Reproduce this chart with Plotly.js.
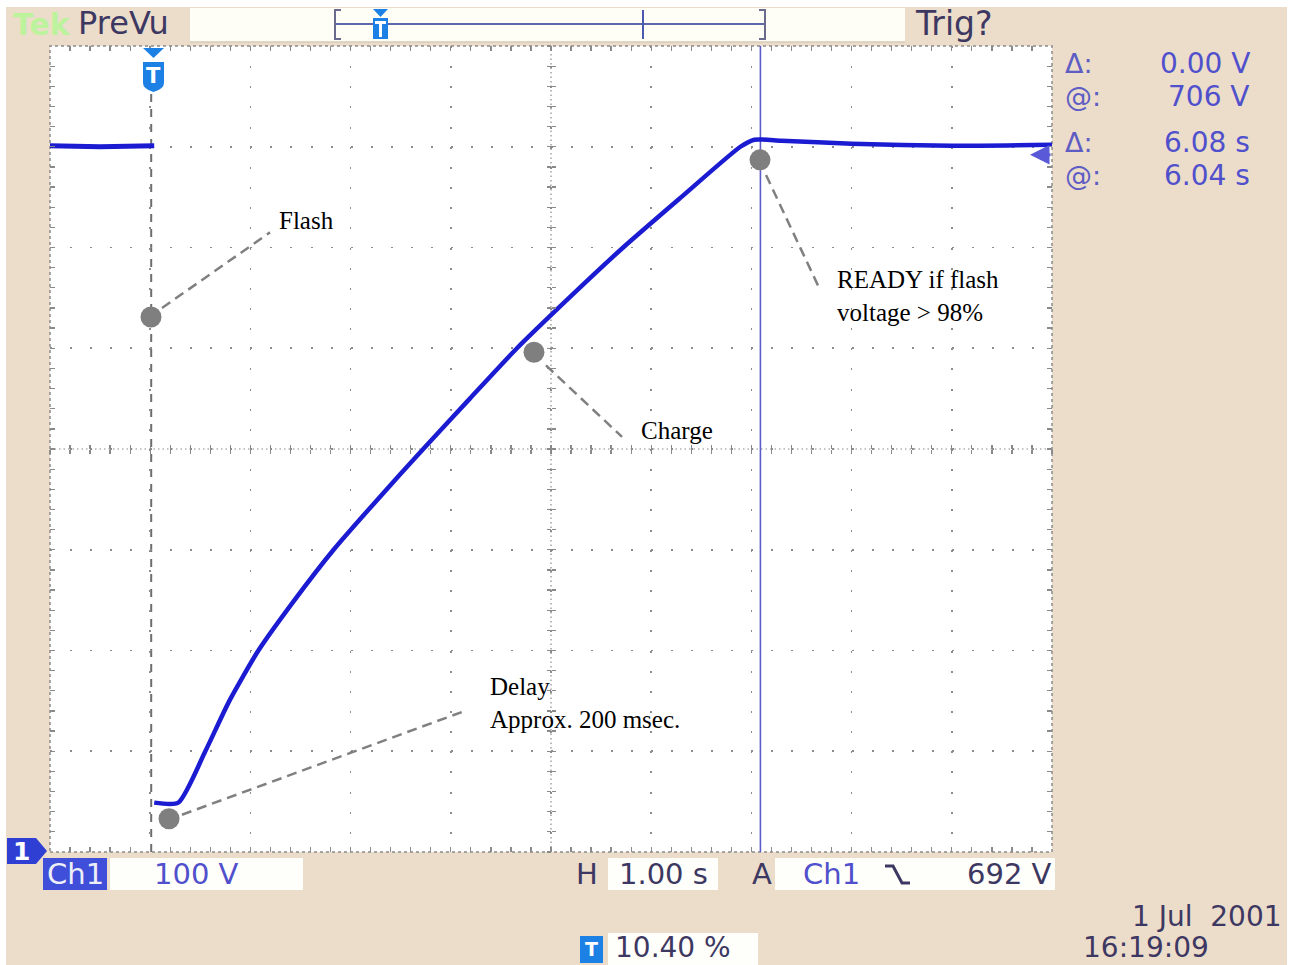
<!DOCTYPE html>
<html><head><meta charset="utf-8">
<script src="https://cdn.plot.ly/plotly-3.0.1.min.js"></script>
<style>html,body{margin:0;padding:0;background:#fff;} #chart{width:1291px;height:965px;}</style>
</head><body><div id="chart"></div>
<script>
// ---- data (seconds, volts) read from the screen; no trace is drawn during the flash drop ----
const preTime = [0, 0.5, 1.04];
const preVolt = [701, 700, 701];
const chargeTime = [1.04, 1.28, 1.55, 1.79, 2.08, 2.44, 2.83, 3.27, 3.725, 4.19, 4.66, 5.18, 5.72, 6.30, 6.89, 7.03, 7.3, 8.0, 9.0, 10.0];
const chargeVolt = [49, 49, 100, 150, 200, 250, 300, 350, 400, 450, 500, 550, 600, 650, 700, 707, 706, 703, 701, 702];

const xRange = [0, 10];      // 1.00 s/div, 10 div
const yRange = [0, 800];     // 100 V/div, 8 div
const TRIGGER_T = 1.01;
const CURSOR_T = 7.09;
const TRIG_LEVEL = 692;

const calloutLabels = ['Flash', 'Charge', 'READY if flash<br>voltage > 98%', 'Delay<br>Approx. 200 msec.'];
const calloutDotT = [1.008, 4.83, 7.086, 1.188];
const calloutDotV = [531, 496, 687, 33];
const calloutLineT0 = [1.118, 4.95, 7.146, 1.317];
const calloutLineV0 = [540, 483, 672, 37];
const calloutLineT1 = [2.196, 5.709, 7.685, 4.112];
const calloutLineV1 = [615, 412, 558, 139];
const calloutTextT = [2.265, 5.878, 7.834, 4.371];
const calloutTextV = [627, 418, 552, 148];

const readoutLabels = ['Δ:', '@:', 'Δ:', '@:'];
const readoutValues = ['0.00 V', '706 V', '6.08 s', '6.04 s'];

// ---- layout helpers (pixel -> paper) ----
const L = 50, R = 1052, TOP = 46, BOT = 852;
const PX = p => (p - L) / (R - L);
const PY = p => (BOT - p) / (BOT - TOP);
const SCOPE = '"DejaVu Sans", Verdana, sans-serif';
const DARK = '#3d3862';
const BLUE = '#5050cc';
const ICON = '#1d80e4';
const BEIGE = '#ecdcca';

function rectPx(x0, y0, x1, y1, fill) {
  return {type: 'rect', xref: 'paper', yref: 'paper', x0: PX(x0), x1: PX(x1), y0: PY(y1), y1: PY(y0),
    fillcolor: fill, line: {width: 0}, layer: 'above'};
}
function pathPx(pts, close, fill, line) {
  let d = pts.map((p, i) => (i ? 'L' : 'M') + PX(p[0]).toFixed(5) + ',' + PY(p[1]).toFixed(5)).join(' ');
  if (close) d += ' Z';
  return {type: 'path', xref: 'paper', yref: 'paper', path: d, fillcolor: fill || 'rgba(0,0,0,0)', line: line || {width: 0}, layer: 'above'};
}
function linePx(x0, y0, x1, y1, color, width, dash) {
  return {type: 'line', xref: 'paper', yref: 'paper', x0: PX(x0), y0: PY(y0), x1: PX(x1), y1: PY(y1),
    line: {color: color, width: width, dash: dash || 'solid'}, layer: 'above'};
}
function txt(px, py, text, o) {
  o = o || {};
  return {xref: 'paper', yref: 'paper', x: PX(px), y: PY(py), text: text, showarrow: false,
    xanchor: o.xa || 'left', yanchor: 'middle', borderpad: 0,
    font: {family: SCOPE, size: o.size || 29, color: o.color || DARK, weight: o.weight || 'normal'}};
}

const shapes = [];
// white outer edges of the screenshot
shapes.push(rectPx(0, 0, 1291, 7, '#ffffff'));
shapes.push(rectPx(0, 0, 6, 965, '#ffffff'));
shapes.push(rectPx(1287, 0, 1291, 965, '#ffffff'));
// top bar
shapes.push(rectPx(190, 8, 905, 42, '#fffef6'));
shapes.push(linePx(190, 42, 905, 42, '#d8cbb8', 1.5));
shapes.push(linePx(335, 24, 765, 24, '#5c68aa', 2));
shapes.push(pathPx([[341, 10], [335, 10], [335, 39], [341, 39]], false, null, {color: '#6b6b8e', width: 2}));
shapes.push(pathPx([[759, 10], [765, 10], [765, 39], [759, 39]], false, null, {color: '#6b6b8e', width: 2}));
shapes.push(linePx(643, 10, 643, 39, '#4a58b0', 2));
shapes.push(pathPx([[373, 9], [388, 9], [380.5, 17]], true, ICON));
shapes.push(rectPx(373, 18, 388, 39, ICON));
shapes.push(rectPx(379, 21, 382, 37, '#ffffff'));
shapes.push(rectPx(375, 21, 386, 24, '#ffffff'));
// plot frame & centre lines (dotted)
shapes.push({type: 'rect', xref: 'paper', yref: 'paper', x0: 0, x1: 1, y0: 0, y1: 1,
  line: {color: '#8a8a8a', width: 1.5, dash: 'dot'}, layer: 'below'});
shapes.push({type: 'line', xref: 'paper', yref: 'paper', x0: 0, x1: 1, y0: 0.5, y1: 0.5,
  line: {color: '#8a8a8a', width: 1.2, dash: '1.5px,3px'}, layer: 'below'});
shapes.push({type: 'line', xref: 'paper', yref: 'paper', x0: 0.5, x1: 0.5, y0: 0, y1: 1,
  line: {color: '#8a8a8a', width: 1.2, dash: '1.5px,3px'}, layer: 'below'});
// trigger position dashed line
shapes.push({type: 'line', xref: 'x', yref: 'paper', x0: TRIGGER_T, x1: TRIGGER_T, y0: 0, y1: PY(92),
  line: {color: '#6e6e6e', width: 2, dash: '8px,7px'}, layer: 'below'});
// cursor line
shapes.push({type: 'line', xref: 'x', yref: 'paper', x0: CURSOR_T, x1: CURSOR_T, y0: 0, y1: 1,
  line: {color: '#5a5ac8', width: 1.6}, layer: 'below'});
// callout leaders
for (let i = 0; i < calloutLabels.length; i++) {
  shapes.push({type: 'line', xref: 'x', yref: 'y', x0: calloutLineT0[i], y0: calloutLineV0[i], x1: calloutLineT1[i], y1: calloutLineV1[i],
    line: {color: '#808080', width: 2.5, dash: '10px,6px'}, layer: 'above'});
}
// T marker on top of the graticule
shapes.push(pathPx([[143, 48], [164, 48], [153.5, 58]], true, ICON));
shapes.push({type: 'path', xref: 'paper', yref: 'paper', layer: 'above', fillcolor: ICON, line: {width: 0},
  path: 'M' + PX(143) + ',' + PY(62) + ' L' + PX(164) + ',' + PY(62) + ' L' + PX(164) + ',' + PY(83) +
    ' Q' + PX(164) + ',' + PY(89) + ' ' + PX(153.5) + ',' + PY(92) + ' Q' + PX(143) + ',' + PY(89) + ' ' + PX(143) + ',' + PY(83) + ' Z'});
// bottom status line
shapes.push(pathPx([[7, 838], [36, 838], [47, 851], [36, 864], [7, 864]], true, '#2f3fd4'));
shapes.push(rectPx(43, 858, 107, 890, '#3f4fda'));
shapes.push(rectPx(110, 858, 303, 890, '#fefefa'));
shapes.push(rectPx(608, 858, 718, 890, '#fefefa'));
shapes.push(rectPx(775, 858, 1055, 890, '#fefefa'));
shapes.push(pathPx([[885, 866], [893, 866], [902, 883], [910, 883]], false, null, {color: DARK, width: 3}));
shapes.push(rectPx(608, 933, 758, 965, '#fefefa'));
shapes.push(rectPx(580, 936, 603, 963, ICON));

const annotations = [];
annotations.push(txt(12, 24, 'Tek', {color: '#bdf39c', size: 30, weight: 'bold'}));
annotations.push(txt(77, 23, 'PreVu', {size: 32}));
annotations.push(txt(914, 23, 'Trig?', {size: 33}));
annotations.push(txt(153.5, 76, 'T', {xa: 'center', color: '#ffffff', size: 21, weight: 'bold'}));
annotations.push(txt(591.5, 949, 'T', {xa: 'center', color: '#ffffff', size: 19, weight: 'bold'}));
// right-hand readouts
const readY = [63, 96, 143, 176];
for (let i = 0; i < readoutLabels.length; i++) {
  annotations.push(txt(1064, readY[i], readoutLabels[i], {color: '#5d5dc4', size: 27}));
  annotations.push(txt(1251, readY[i], readoutValues[i], {xa: 'right', color: BLUE, size: 28}));
}
// bottom readouts
annotations.push(txt(21, 851, '1', {xa: 'center', color: '#ffffff', size: 25, weight: 'bold'}));
annotations.push(txt(75, 874, 'Ch1', {xa: 'center', color: '#eeeef6', size: 29}));
annotations.push(txt(196, 874, '100 V', {xa: 'center', color: BLUE, size: 29}));
annotations.push(txt(587, 874, 'H', {xa: 'center', size: 29}));
annotations.push(txt(663, 874, '1.00 s', {xa: 'center', size: 29}));
annotations.push(txt(762, 874, 'A', {xa: 'center', size: 29}));
annotations.push(txt(831, 874, 'Ch1', {xa: 'center', color: BLUE, size: 29}));
annotations.push(txt(1053, 874, '692 V', {xa: 'right', size: 29}));
annotations.push(txt(1283, 917, '1 Jul  2001', {xa: 'right', size: 28}));
annotations.push(txt(1082, 947, '16:19:09', {size: 28}));
annotations.push(txt(614, 947, '10.40 %', {size: 28}));
// trigger level arrow
annotations.push({xref: 'x', yref: 'y', x: (1030 - L) / (R - L) * 10, y: TRIG_LEVEL, ax: 22, ay: 0, text: '',
  showarrow: true, arrowhead: 2, arrowsize: 1.3, arrowwidth: 3, arrowcolor: '#5a5ad8'});
// callout labels
for (let i = 0; i < calloutLabels.length; i++) {
  annotations.push({xref: 'x', yref: 'y', x: calloutTextT[i], y: calloutTextV[i], text: calloutLabels[i],
    showarrow: false, xanchor: 'left', yanchor: 'middle', align: 'left',
    font: {family: '"Liberation Serif", "Times New Roman", serif', size: 25, color: '#000000'}});
}

const tickCol = '#8a8a8a';
const baseAxis = {showticklabels: false, zeroline: false, showline: false, fixedrange: true};
function centreAxis(overlay, range, dtick, minorDtick, side) {
  return Object.assign({}, baseAxis, {overlaying: overlay, anchor: 'free', position: 0.5, range: range, showgrid: false,
    dtick: dtick, ticks: side, ticklen: 4, tickcolor: tickCol, tickwidth: 1.3,
    minor: {dtick: minorDtick, ticks: side, ticklen: 4, tickcolor: tickCol, tickwidth: 1.3, showgrid: false}});
}
const layout = {
  width: 1291, height: 965, autosize: false,
  margin: {l: L, r: 1291 - R, t: TOP, b: 965 - BOT, pad: 0},
  paper_bgcolor: BEIGE, plot_bgcolor: '#ffffff',
  showlegend: false,
  xaxis: Object.assign({}, baseAxis, {range: xRange, dtick: 1, tick0: 0, showgrid: true, gridcolor: '#8c8c8c', gridwidth: 1.6,
    griddash: '2px,18.15px', ticks: 'inside', ticklen: 5, tickcolor: tickCol, tickwidth: 1.3, mirror: 'ticks',
    minor: {dtick: 0.2, ticks: 'inside', ticklen: 5, tickcolor: tickCol, tickwidth: 1.3, showgrid: false}}),
  yaxis: Object.assign({}, baseAxis, {range: yRange, dtick: 100, tick0: 0, showgrid: true, gridcolor: '#8c8c8c', gridwidth: 1.6,
    griddash: '2px,18.04px', ticks: 'inside', ticklen: 5, tickcolor: tickCol, tickwidth: 1.3, mirror: 'ticks',
    minor: {dtick: 20, ticks: 'inside', ticklen: 5, tickcolor: tickCol, tickwidth: 1.3, showgrid: false}}),
  xaxis2: centreAxis('x', xRange, 1, 0.2, 'inside'),
  xaxis3: centreAxis('x', xRange, 1, 0.2, 'outside'),
  yaxis2: centreAxis('y', yRange, 100, 20, 'inside'),
  yaxis3: centreAxis('y', yRange, 100, 20, 'outside'),
  shapes: shapes,
  annotations: annotations
};

const traceStyle = {type: 'scatter', mode: 'lines', hoverinfo: 'skip'};
const traces = [
  {x: [], y: [], xaxis: 'x2', yaxis: 'y', type: 'scatter', hoverinfo: 'skip'},
  {x: [], y: [], xaxis: 'x3', yaxis: 'y', type: 'scatter', hoverinfo: 'skip'},
  {x: [], y: [], xaxis: 'x', yaxis: 'y2', type: 'scatter', hoverinfo: 'skip'},
  {x: [], y: [], xaxis: 'x', yaxis: 'y3', type: 'scatter', hoverinfo: 'skip'},
  Object.assign({x: preTime, y: preVolt, line: {color: '#1b1bd2', width: 5}}, traceStyle),
  Object.assign({x: chargeTime, y: chargeVolt, line: {color: '#1b1bd2', width: 4.5, shape: 'spline', smoothing: 0.6}}, traceStyle),
  {x: calloutDotT, y: calloutDotV, type: 'scatter', mode: 'markers', marker: {color: '#7f7f7f', size: 21, line: {width: 0}}, hoverinfo: 'skip'}
];

Plotly.newPlot('chart', traces, layout, {displayModeBar: false, staticPlot: true});
</script>
</body></html>
